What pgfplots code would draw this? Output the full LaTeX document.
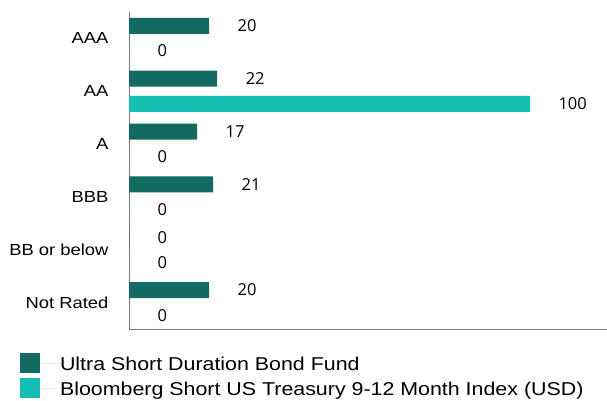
\documentclass[border=0pt]{standalone}
\usepackage{pgfplots}
\pgfplotsset{compat=1.18}
\usepackage{fontspec}
\setmainfont{Liberation Sans}[FakeStretch=1.15]
\newfontfamily\numfont{Open Sans}
\definecolor{fund}{RGB}{18,106,98}
\definecolor{idx}{RGB}{20,190,178}
\definecolor{axgray}{RGB}{120,120,120}
\begin{document}
\begin{tikzpicture}
\useasboundingbox (0,0) rectangle (607pt,400pt);
\begin{axis}[
  at={(129pt,71pt)}, anchor=south west,
  scale only axis, width=478pt, height=317pt,
  xbar, bar width=16pt, bar shift=0pt,
  xmin=0, xmax=119.2,
  ymin=-0.5, ymax=5.5, y dir=reverse,
  axis x line=bottom, axis y line=left,
  axis line style={axgray, line width=1pt, -},
  xtick=\empty,
  ytick={0,1,2,3,4,5},
  yticklabels={AAA,AA,A,BBB,BB or below,Not Rated},
  major tick length=0pt,
  yticklabel style={font=\fontsize{16}{18}\selectfont, anchor=east, xshift=-17pt},
  point meta=x,
  /pgf/number format/assume math mode=true,
  nodes near coords,
  nodes near coords style={anchor=west, xshift=25pt, font=\numfont\fontsize{16.5}{18}\selectfont, black},
  legend style={at={(-0.228,-0.0758)}, anchor=north west, draw=none, fill=none,
    inner sep=0pt, outer sep=0pt,
    nodes={inner sep=0pt, text height=13pt, text depth=0pt},
    font=\fontsize{18.6}{20}\selectfont, row sep=5pt},
  legend cell align=left,
  legend image code/.code={\fill[#1] (0pt,-9.5pt) rectangle (20pt,10.5pt); \path (0pt,0pt) -- (40pt,0pt);},
]
\addplot[fill=fund, draw=none] coordinates {(20,-0.237) (22,0.763) (17,1.763) (21,2.763) (0,3.763) (20,4.763)};
\addplot[fill=idx, draw=none] coordinates {(0,0.237) (100,1.237) (0,2.237) (0,3.237) (0,4.237) (0,5.237)};
\legend{Ultra Short Duration Bond Fund, Bloomberg Short US Treasury 9-12 Month Index (USD)}
\end{axis}
\end{tikzpicture}
\end{document}
